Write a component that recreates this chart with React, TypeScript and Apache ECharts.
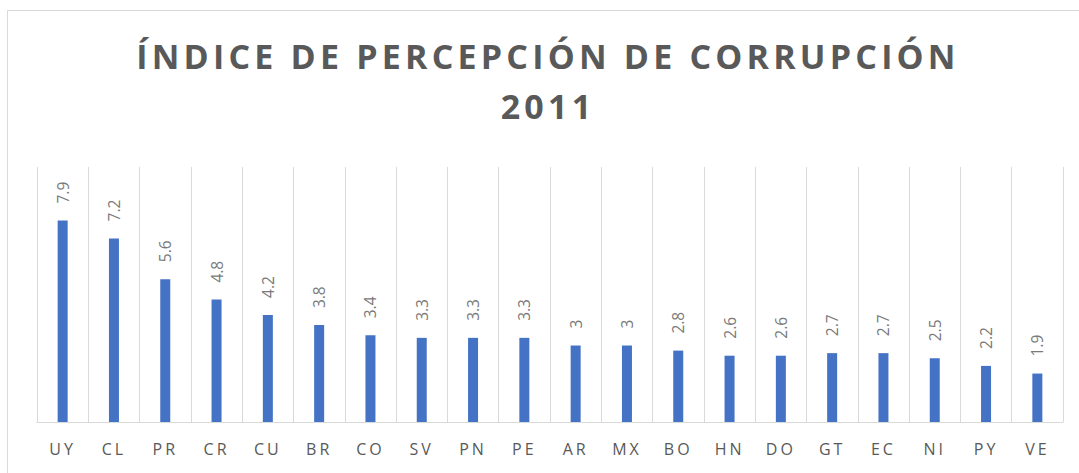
import React, { useEffect, useRef } from "react";
import * as echarts from "echarts";

const categories = ["UY", "CL", "PR", "CR", "CU", "BR", "CO", "SV", "PN", "PE", "AR", "MX", "BO", "HN", "DO", "GT", "EC", "NI", "PY", "VE"];
const values = [7.9, 7.2, 5.6, 4.8, 4.2, 3.8, 3.4, 3.3, 3.3, 3.3, 3, 3, 2.8, 2.6, 2.6, 2.7, 2.7, 2.5, 2.2, 1.9];
const titleLines = ["ÍNDICE DE PERCEPCIÓN DE CORRUPCIÓN", "2011"];

export default function App() {
  const ref = useRef<HTMLDivElement>(null);
  useEffect(() => {
    document.body.style.margin = "0";
    const chart = echarts.init(ref.current!, null, { renderer: "svg" });
    chart.setOption({
      animation: false,
      backgroundColor: "#ffffff",
      title: {
        text: titleLines.join("\n"),
        left: 548,
        textAlign: "center",
        top: 31,
        padding: 0,
        textStyle: {
          fontFamily: "Open Sans",
          fontWeight: "bold",
          fontSize: 34,
          lineHeight: 50,
          color: "#595959",
        },
      },
      graphic: [
        {
          type: "rect",
          shape: { x: 7.5, y: 10.5, width: 1100, height: 500 },
          style: { fill: "none", stroke: "#d9d9d9", lineWidth: 1 },
          silent: true,
          z: -1,
        },
      ],
      grid: { left: 37, right: 16, top: 167, bottom: 51, containLabel: false },
      xAxis: {
        type: "category",
        data: categories,
        boundaryGap: true,
        axisLine: { lineStyle: { color: "#d9d9d9", width: 1 } },
        axisTick: { show: false },
        splitLine: { show: true, interval: 0, lineStyle: { color: "#d9d9d9", width: 1 } },
        axisLabel: {
          interval: 0,
          color: "#595959",
          fontFamily: "Open Sans",
          fontSize: 16,
          margin: 19,
        },
      },
      yAxis: {
        type: "value",
        min: 0,
        max: 10,
        show: false,
        splitLine: { show: false },
      },
      series: [
        {
          type: "bar",
          data: values,
          barWidth: 10,
          itemStyle: { color: "#4472C4" },
          label: {
            show: true,
            position: "top",
            rotate: 90,
            align: "left",
            verticalAlign: "middle",
            distance: 17,
            color: "#7a7a7a",
            fontFamily: "Open Sans",
            fontSize: 15.5,
          },
        },
      ],
    });
    return () => chart.dispose();
  }, []);
  return (
    <>
      <style>{`.cchart text[style*=" 16px"] { letter-spacing: 3px; } .cchart text[style*="34px"] { letter-spacing: 4.2px; }`}</style>
      <div className="cchart" ref={ref} style={{ width: 1079, height: 473 }} />
    </>
  );
}
